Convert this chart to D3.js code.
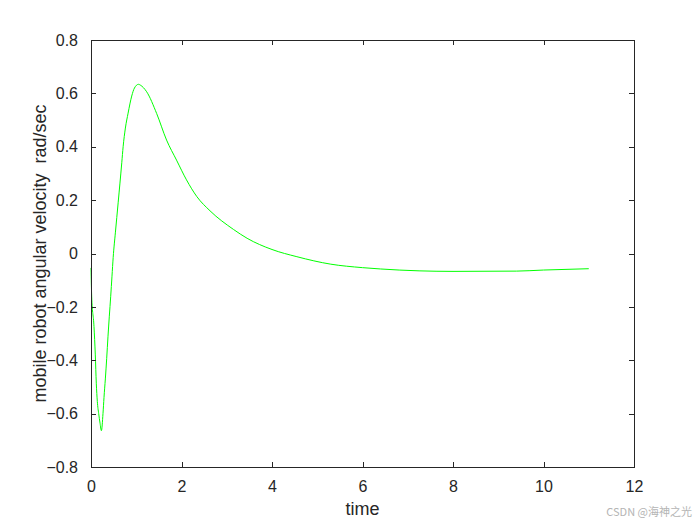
<!DOCTYPE html>
<html>
<head>
<meta charset="utf-8">
<script src="https://cdn.jsdelivr.net/npm/d3@7"></script>
<style>
  body { margin: 0; background: #fff; }
  svg { display: block; font-family: "Liberation Sans", Arial, sans-serif; }
</style>
</head>
<body>
<svg id="chart" width="700" height="525"></svg>
<script>
// time (s) and angular velocity (rad/sec)
var timeValues = [0, 0.015, 0.066, 0.095, 0.117, 0.14, 0.17, 0.2, 0.23, 0.265, 0.287, 0.317, 0.347, 0.376, 0.405,
    0.435, 0.464, 0.49, 0.54, 0.6, 0.68, 0.71, 0.76, 0.82, 0.9, 0.96, 1.05, 1.09, 1.23, 1.45, 1.67, 1.89,
    2.11, 2.34, 2.63, 3.15, 3.45, 4.0, 4.55, 5.3, 6.0, 6.4, 7.25, 8.0, 9.4, 10.0, 11.0];
var omegaValues = [-0.054, -0.16, -0.274, -0.38, -0.486, -0.555, -0.6, -0.636, -0.664, -0.6, -0.54, -0.47, -0.393, -0.31, -0.235,
    -0.162, -0.085, -0.015, 0.08, 0.19, 0.34, 0.4, 0.47, 0.526, 0.59, 0.62, 0.634, 0.631, 0.606, 0.525, 0.425, 0.35,
    0.276, 0.213, 0.16, 0.09, 0.057, 0.015, -0.012, -0.04, -0.053, -0.058, -0.065, -0.067, -0.066, -0.062, -0.057];
var xTicks = [0, 2, 4, 6, 8, 10, 12];
var yTicks = [-0.8, -0.6, -0.4, -0.2, 0, 0.2, 0.4, 0.6, 0.8];

var margin = { top: 40, right: 66, bottom: 58, left: 91 },
    width = 700 - margin.left - margin.right,
    height = 525 - margin.top - margin.bottom;

var svg = d3.select('#chart');
var g = svg.append('g')
    .attr('transform', 'translate(' + margin.left + ',' + margin.top + ')');

var x = d3.scaleLinear().domain([0, 12]).range([0, width]);
var y = d3.scaleLinear().domain([-0.8, 0.8]).range([height, 0]);

var data = timeValues.map(function (t, i) { return [t, omegaValues[i]]; });

// curve
var line = d3.line()
    .curve(d3.curveMonotoneX)
    .x(function (d) { return x(d[0]); })
    .y(function (d) { return y(d[1]); });

g.append('path')
    .datum(data)
    .attr('d', line)
    .attr('fill', 'none')
    .attr('stroke', '#00ff00')
    .attr('stroke-width', 1);

// axes, ticks pointing inward on all four sides
function styleAxis(sel) {
    sel.select('.domain').remove();
    sel.selectAll('line').attr('stroke', '#262626').attr('shape-rendering', 'crispEdges');
    sel.selectAll('text').attr('fill', '#262626').style('font-size', '16px')
        .style('font-family', '"Liberation Sans", Arial, sans-serif');
}

var fmtY = function (d) { return d === 0 ? '0' : d3.format('.1f')(d); };

g.append('g')
    .attr('transform', 'translate(0,' + height + ')')
    .call(d3.axisBottom(x).tickValues(xTicks).tickSize(-5).tickPadding(14).tickFormat(d3.format('d')))
    .call(styleAxis);

g.append('g')
    .call(d3.axisTop(x).tickValues(xTicks).tickSize(-5).tickFormat(''))
    .call(styleAxis);

g.append('g')
    .call(d3.axisLeft(y).tickValues(yTicks).tickSize(-5).tickPadding(13).tickFormat(fmtY))
    .call(styleAxis);

g.append('g')
    .attr('transform', 'translate(' + width + ',0)')
    .call(d3.axisRight(y).tickValues(yTicks).tickSize(-5).tickFormat(''))
    .call(styleAxis);

// box
g.append('rect')
    .attr('x', 0.5)
    .attr('y', 0.5)
    .attr('width', width)
    .attr('height', height)
    .attr('fill', 'none')
    .attr('stroke', '#262626')
    .attr('stroke-width', 1)
    .attr('shape-rendering', 'crispEdges');

// labels
svg.append('text')
    .attr('x', margin.left + width / 2)
    .attr('y', 515)
    .attr('text-anchor', 'middle')
    .attr('fill', '#262626')
    .style('font-size', '18px')
    .text('time');

svg.append('text')
    .attr('transform', 'translate(46,' + (margin.top + height / 2) + ') rotate(-90)')
    .attr('text-anchor', 'middle')
    .attr('fill', '#262626')
    .style('font-size', '18px')
    .style('white-space', 'pre')
    .text('mobile robot angular velocity  rad/sec');

// watermark
svg.append('text')
    .attr('x', 692)
    .attr('y', 516)
    .attr('text-anchor', 'end')
    .attr('fill', '#b4b4b4')
    .style('font-size', '11px')
    .style('font-family', '"Noto Sans CJK SC", "Liberation Sans", sans-serif')
    .text('CSDN @海神之光');
</script>
</body>
</html>
